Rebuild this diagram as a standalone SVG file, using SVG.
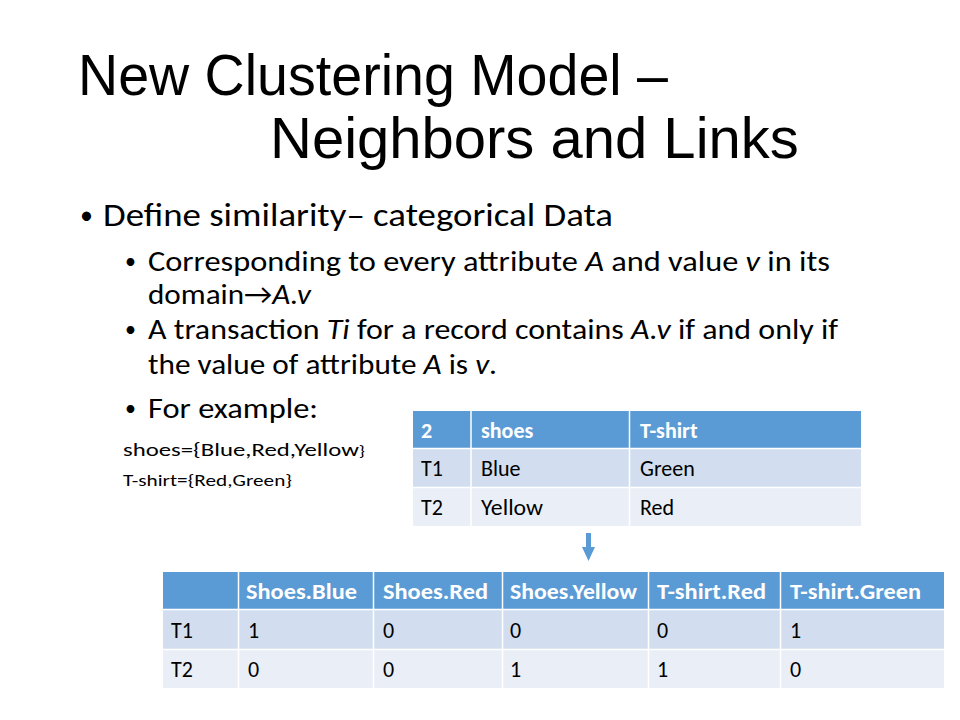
<svg xmlns="http://www.w3.org/2000/svg" width="960" height="720" viewBox="0 0 960 720">
<style>
.title{font-family:"Liberation Sans",Arial,sans-serif;font-size:58px;fill:#000}
.body{font-family:Carlito,Calibri,Lato,"Open Sans",sans-serif;fill:#000}
.l1{font-size:33px}
.l2{font-size:29px}
.b1{font-size:26px}
.b2{font-size:22px}
.i{font-style:italic}
.hd{fill:#5B9BD5}
.r1{fill:#D2DEEF}
.r2{fill:#EAEFF7}
.th{font-family:Carlito,Calibri,Lato,"Open Sans",sans-serif;font-size:22px;font-weight:bold;fill:#fff}
.td{font-family:Carlito,Calibri,Lato,"Open Sans",sans-serif;font-size:22px;fill:#000}
.sep{stroke:#fff;stroke-width:1.5}
</style>
<rect width="960" height="720" fill="#fff"/>
<g id="title">
<text class="title" x="78" y="95" textLength="590" lengthAdjust="spacingAndGlyphs">New Clustering Model –</text>
<text class="title" x="270" y="158">Neighbors and Links</text>
</g>
<g id="bullets" class="body">
<text class="b1" x="80" y="224">•</text>
<text class="l1" x="103" y="226" textLength="510" lengthAdjust="spacingAndGlyphs">Define similarity– categorical Data</text>
<text class="b2" x="125" y="269">•</text>
<text class="l2" x="148" y="271" textLength="682" lengthAdjust="spacingAndGlyphs">Corresponding  to every attribute <tspan class="i">A</tspan> and value <tspan class="i">v</tspan> in its</text>
<text class="l2" x="148" y="304" textLength="163" lengthAdjust="spacingAndGlyphs">domain→<tspan class="i">A.v</tspan></text>
<text class="b2" x="125" y="337">•</text>
<text class="l2" x="148" y="339" textLength="690" lengthAdjust="spacingAndGlyphs">A transaction <tspan class="i">Ti</tspan> for a record contains <tspan class="i">A.v</tspan> if and only if</text>
<text class="l2" x="148" y="374" textLength="349" lengthAdjust="spacingAndGlyphs">the value of attribute <tspan class="i">A</tspan> is <tspan class="i">v</tspan>.</text>
<text class="b2" x="125" y="416">•</text>
<text class="l2" x="148" y="418" textLength="170" lengthAdjust="spacingAndGlyphs">For example:</text>
<text x="123" y="456" font-size="19px" textLength="242" lengthAdjust="spacingAndGlyphs">shoes={Blue,Red,Yellow<tspan font-size="15px">}</tspan></text>
<text x="123" y="486" font-size="17px" textLength="169" lengthAdjust="spacingAndGlyphs">T-shirt={Red,Green}</text>
</g>
<g id="table1">
<rect class="hd" x="413" y="411" width="448" height="37"/>
<rect class="r1" x="413" y="449" width="448" height="38"/>
<rect class="r2" x="413" y="488" width="448" height="38"/>
<line class="sep" x1="413" y1="448.5" x2="861" y2="448.5"/>
<line class="sep" x1="413" y1="487.5" x2="861" y2="487.5"/>
<line class="sep" x1="471" y1="411" x2="471" y2="526"/>
<line class="sep" x1="629.5" y1="411" x2="629.5" y2="526"/>
<text class="th" x="421" y="438">2</text>
<text class="th" x="481" y="438">shoes</text>
<text class="th" x="640" y="438">T-shirt</text>
<text class="td" x="421" y="476">T1</text>
<text class="td" x="481" y="476">Blue</text>
<text class="td" x="640" y="476">Green</text>
<text class="td" x="421" y="515">T2</text>
<text class="td" x="481" y="515" textLength="62" lengthAdjust="spacingAndGlyphs">Yellow</text>
<text class="td" x="640" y="515">Red</text>
</g>
<g id="connectors">
<polygon points="586,533 591,533 591,547 595,547 588.5,561 582,547 586,547" fill="#5B9BD5"/>
</g>
<g id="table2">
<rect class="hd" x="163" y="572" width="781" height="37"/>
<rect class="r1" x="163" y="610" width="781" height="39"/>
<rect class="r2" x="163" y="650" width="781" height="38"/>
<line class="sep" x1="163" y1="609.5" x2="944" y2="609.5"/>
<line class="sep" x1="163" y1="649.5" x2="944" y2="649.5"/>
<line class="sep" x1="238.5" y1="572" x2="238.5" y2="688"/>
<line class="sep" x1="373.5" y1="572" x2="373.5" y2="688"/>
<line class="sep" x1="502.5" y1="572" x2="502.5" y2="688"/>
<line class="sep" x1="648.5" y1="572" x2="648.5" y2="688"/>
<line class="sep" x1="780.5" y1="572" x2="780.5" y2="688"/>
<text class="th" x="246" y="599" textLength="111" lengthAdjust="spacingAndGlyphs">Shoes.Blue</text>
<text class="th" x="383" y="599" textLength="105" lengthAdjust="spacingAndGlyphs">Shoes.Red</text>
<text class="th" x="510" y="599" textLength="127" lengthAdjust="spacingAndGlyphs">Shoes.Yellow</text>
<text class="th" x="657" y="599" textLength="109" lengthAdjust="spacingAndGlyphs">T-shirt.Red</text>
<text class="th" x="790" y="599" textLength="131" lengthAdjust="spacingAndGlyphs">T-shirt.Green</text>
<text class="td" x="171" y="638">T1</text>
<text class="td" x="248" y="638">1</text>
<text class="td" x="383" y="638">0</text>
<text class="td" x="510" y="638">0</text>
<text class="td" x="657" y="638">0</text>
<text class="td" x="790" y="638">1</text>
<text class="td" x="171" y="677">T2</text>
<text class="td" x="248" y="677">0</text>
<text class="td" x="383" y="677">0</text>
<text class="td" x="510" y="677">1</text>
<text class="td" x="657" y="677">1</text>
<text class="td" x="790" y="677">0</text>
</g>
</svg>
